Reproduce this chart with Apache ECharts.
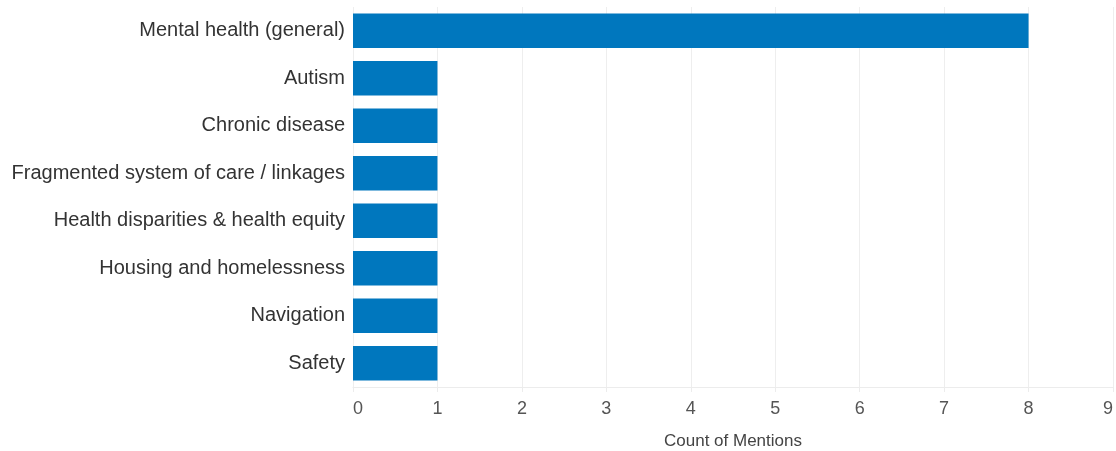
<!DOCTYPE html>
<html>
<head>
<meta charset="utf-8">
<script src="https://cdn.jsdelivr.net/npm/echarts@6/dist/echarts.min.js"></script>
<style>
  html, body { margin: 0; padding: 0; background: #fff; }
  #chart { width: 1116px; height: 451px; }
</style>
</head>
<body>
<div id="chart"></div>
<script>
// topics, top to bottom
var topics = [
    'Mental health (general)',
    'Autism',
    'Chronic disease',
    'Fragmented system of care / linkages',
    'Health disparities & health equity',
    'Housing and homelessness',
    'Navigation',
    'Safety'
];
var mentions = [8, 1, 1, 1, 1, 1, 1, 1];
var xTicks = [0, 1, 2, 3, 4, 5, 6, 7, 8, 9];

var chart = echarts.init(document.getElementById('chart'));
chart.setOption({
    animation: false,
    grid: { left: 353, right: 3, top: 7, bottom: 64, outerBoundsMode: 'none', containLabel: false },
    xAxis: {
        type: 'value',
        min: xTicks[0],
        max: xTicks[xTicks.length - 1],
        interval: 1,
        name: 'Count of Mentions',
        nameLocation: 'middle',
        nameGap: 46,
        nameTextStyle: { color: '#444', fontSize: 17, fontFamily: 'Liberation Sans' },
        axisLine: { show: true, lineStyle: { color: '#ececec' } },
        axisTick: { show: true, length: 5, lineStyle: { color: '#ececec' } },
        axisLabel: {
            color: '#555', fontSize: 18, margin: 13, fontFamily: 'Liberation Sans',
            alignMinLabel: 'left', alignMaxLabel: 'right'
        },
        splitLine: { show: true, lineStyle: { color: '#eeeeee' } }
    },
    yAxis: {
        type: 'category',
        data: topics,
        inverse: true,
        axisLine: { show: false },
        axisTick: { show: false },
        axisLabel: { color: '#333', fontSize: 20, margin: 8, fontFamily: 'Liberation Sans' }
    },
    series: [{
        type: 'bar',
        data: mentions,
        barCategoryGap: '27%',
        itemStyle: { color: '#0077be' }
    }]
});
</script>
</body>
</html>
